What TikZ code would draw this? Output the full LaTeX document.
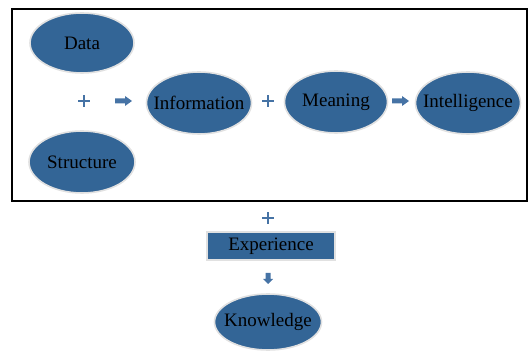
\documentclass[tikz,border=0pt]{standalone}
\usepackage{fontspec}
\setmainfont{Liberation Serif}
\usetikzlibrary{shapes.geometric}
\definecolor{nblue}{RGB}{51,101,150}
\definecolor{rim}{RGB}{225,225,225}
\definecolor{sblue}{RGB}{70,115,165}
\begin{document}
\begin{tikzpicture}[x=1pt,y=1pt,
  oval/.style={ellipse,fill=nblue,draw=rim,line width=1.6pt,inner sep=0pt},
  txt/.style={font=\fontsize{19}{21}\selectfont,text=black,inner sep=0pt},
  plussign/.style={draw=sblue,line width=2pt},
  barrow/.style={fill=sblue,draw=none}]
\useasboundingbox (0,0) rectangle (529,350);
\draw[line width=2pt] (12,149) rectangle (527,341);
\node[oval,minimum width=104pt,minimum height=60pt,label={[txt]center:Data}] (data) at (82,307) {};
\node[oval,minimum width=106pt,minimum height=62pt,label={[txt]center:Structure}] (struct) at (82,188) {};
\node[oval,minimum width=105pt,minimum height=62pt,label={[txt]center:Information}] (info) at (199,247) {};
\node[oval,minimum width=103pt,minimum height=62pt,label={[txt]center:Meaning}] (mean) at (336,248) {};
\node[oval,minimum width=105pt,minimum height=62pt,label={[txt]center:Intelligence}] (intel) at (468,247) {};
\node[rectangle,fill=nblue,draw=rim,line width=1.6pt,minimum width=128pt,minimum height=28pt,inner sep=0pt,label={[txt]center:Experience}] (exp) at (271,104) {};
\node[oval,minimum width=107pt,minimum height=56pt,label={[txt]center:Knowledge}] (know) at (268,28) {};
% plus signs
\coordinate (p1) at (84,249);
\coordinate (p2) at (268,249);
\coordinate (p3) at (268,132);
\foreach \p in {p1,p2,p3}{
  \draw[plussign] ([xshift=-6pt]\p) -- ([xshift=6pt]\p);
  \draw[plussign] ([yshift=-6pt]\p) -- ([yshift=6pt]\p);
}
% right arrows
\coordinate (a1) at (115,249);
\coordinate (a2) at (392,249);
\foreach \a in {a1,a2}{
  \fill[barrow] ([yshift=-2.5pt]\a) -- ++(10,0) -- ++(0,-2.5) -- ++(7,5) -- ++(-7,5) -- ++(0,-2.5) -- ++(-10,0) -- cycle;
}
% down arrow
\coordinate (a3) at (268,77);
\fill[barrow] ([xshift=-2.5pt]a3) -- ++(0,-6) -- ++(-2.5,0) -- ++(5,-5) -- ++(5,5) -- ++(-2.5,0) -- ++(0,6) -- cycle;
\end{tikzpicture}
\end{document}
